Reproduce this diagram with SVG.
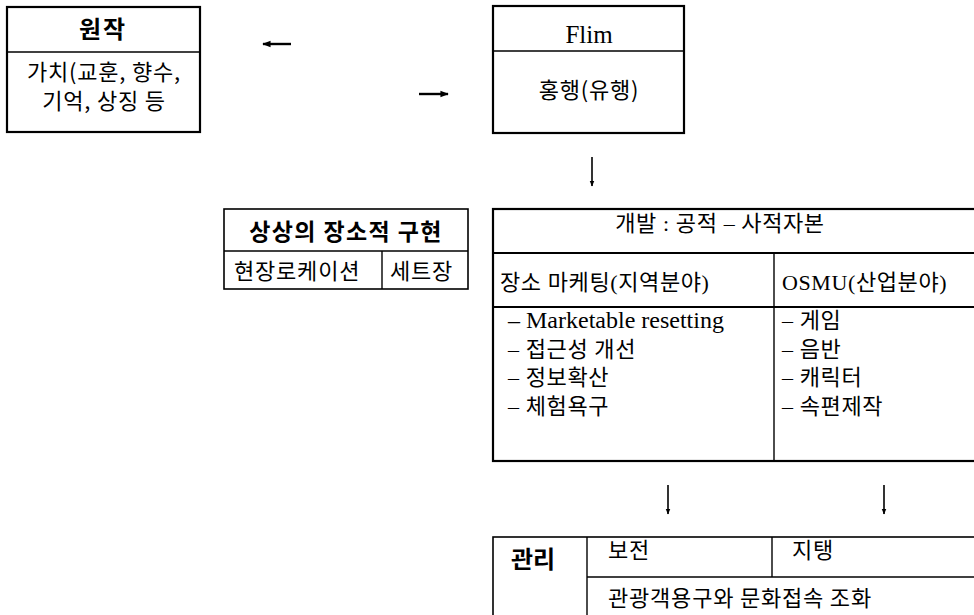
<svg xmlns="http://www.w3.org/2000/svg" width="974" height="615" viewBox="0 0 974 615">
<style>
.box{fill:#fff;stroke:#000;stroke-width:2.2}
.ln{stroke:#000;stroke-width:1.4;fill:none}
.t{font-family:"Liberation Serif","Noto Sans CJK KR",serif;font-size:22px;letter-spacing:0.6px;fill:#000}
.k{font-family:"Noto Sans CJK KR","Liberation Sans",sans-serif;font-size:22px;letter-spacing:0.8px;fill:#000}
.b{font-weight:bold}
.c{text-anchor:middle}
.arr{stroke:#000;stroke-width:2.4;fill:none}
</style>
<defs>
<marker id="ah" viewBox="0 0 10 10" refX="9" refY="5" markerWidth="3.5" markerHeight="3.5" orient="auto" markerUnits="strokeWidth">
<path d="M0,1 L10,5 L0,9 z" fill="#000"/>
</marker>
</defs>
<rect width="974" height="615" fill="#fff"/>
<g id="node-wonjak">
<rect class="box" x="7" y="7" width="193" height="125"/>
<line class="ln" x1="7" y1="52" x2="200" y2="52"/>
<text class="k b c" x="103" y="38" style="font-size:24px;letter-spacing:2px">원작</text>
<text class="k c" x="104" y="80">가치(교훈, 향수,</text>
<text class="k c" x="104" y="109">기억, 상징 등</text>
</g>
<g id="node-film">
<rect class="box" x="493" y="6" width="191" height="127"/>
<line class="ln" x1="493" y1="51" x2="684" y2="51"/>
<text class="t c" x="589" y="43" style="font-size:25px;letter-spacing:0">Flim</text>
<text class="k c" x="589" y="98">홍행(유행)</text>
</g>
<g id="node-place">
<rect class="box" x="224" y="209" width="244" height="80" style="stroke-width:1.6"/>
<line class="ln" x1="224" y1="251" x2="468" y2="251"/>
<line class="ln" x1="382" y1="251" x2="382" y2="289"/>
<text class="k b c" x="346" y="240" style="font-size:23px;letter-spacing:1.4px">상상의 장소적 구현</text>
<text class="k" x="234" y="279">현장로케이션</text>
<text class="k" x="390" y="279">세트장</text>
</g>
<g id="node-dev">
<rect class="box" x="493" y="209" width="490" height="252"/>
<line class="ln" x1="493" y1="253" x2="983" y2="253" style="stroke-width:1.8"/>
<line class="ln" x1="493" y1="307" x2="983" y2="307" style="stroke-width:1.8"/>
<line class="ln" x1="774" y1="253" x2="774" y2="461"/>
<text class="t c" x="720" y="231">개발 : 공적 – 사적자본</text>
<text class="t" x="500" y="290">장소 마케팅(지역분야)</text>
<text class="t" x="782" y="290">OSMU(산업분야)</text>
<text class="t" x="508" y="328" style="font-size:24px;letter-spacing:0">– Marketable resetting</text>
<text class="t" x="508" y="357">– 접근성 개선</text>
<text class="t" x="508" y="385">– 정보확산</text>
<text class="t" x="508" y="414">– 체험욕구</text>
<text class="t" x="782" y="328">– 게임</text>
<text class="t" x="782" y="357">– 음반</text>
<text class="t" x="782" y="385">– 캐릭터</text>
<text class="t" x="782" y="414">– 속편제작</text>
</g>
<g id="node-manage">
<rect class="box" x="493" y="537" width="490" height="90" style="stroke-width:1.6"/>
<line class="ln" x1="587" y1="537" x2="587" y2="615"/>
<line class="ln" x1="587" y1="577" x2="983" y2="577"/>
<line class="ln" x1="772" y1="537" x2="772" y2="577"/>
<text class="k b" x="511" y="568" style="font-size:24px;letter-spacing:0">관리</text>
<text class="k" x="608" y="558">보전</text>
<text class="k" x="792" y="558">지탱</text>
<text class="k" x="608" y="606">관광객용구와 문화접속 조화</text>
</g>
<g id="connectors">
<line class="arr" x1="291" y1="44" x2="263" y2="44" marker-end="url(#ah)"/>
<line class="arr" x1="419" y1="94" x2="448" y2="94" marker-end="url(#ah)"/>
<line class="arr" x1="592" y1="157" x2="592" y2="186" style="stroke-width:1.6" marker-end="url(#ah)"/>
<line class="arr" x1="668" y1="485" x2="668" y2="514" style="stroke-width:1.6" marker-end="url(#ah)"/>
<line class="arr" x1="884" y1="485" x2="884" y2="514" style="stroke-width:1.6" marker-end="url(#ah)"/>
</g>
</svg>
